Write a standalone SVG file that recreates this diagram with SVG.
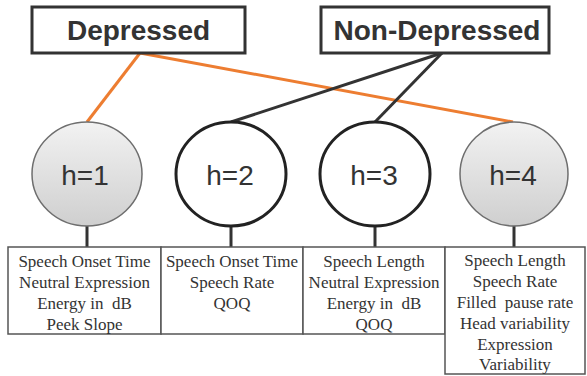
<svg xmlns="http://www.w3.org/2000/svg" width="587" height="376" viewBox="0 0 587 376">
<defs>
<linearGradient id="g" x1="0" y1="0" x2="0" y2="1">
<stop offset="0" stop-color="#f2f2f2"/>
<stop offset="1" stop-color="#cfcfcf"/>
</linearGradient>
<style>
.hdr{fill:#fff;stroke:#333;stroke-width:3}
.ht{font-family:"Liberation Sans",Arial,sans-serif;font-weight:bold;font-size:28px;fill:#333;text-anchor:middle}
.cf{fill:url(#g);stroke:#6e6e6e;stroke-width:1.5}
.co{fill:#fff;stroke:#222;stroke-width:3}
.ct{font-family:"Liberation Sans",Arial,sans-serif;font-size:28px;fill:#333;text-anchor:middle}
.stem{stroke:#333;stroke-width:3}
.tb{fill:#fff;stroke:#555;stroke-width:1.5}
.tt{font-family:"Liberation Serif","Times New Roman",serif;font-size:17px;fill:#333;text-anchor:middle;white-space:pre}
.or{stroke:#ed7d31;stroke-width:3;fill:none}
.bk{stroke:#333;stroke-width:3;fill:none}
</style>
</defs>
<g id="connectors">
<line class="or" x1="140" y1="53" x2="87" y2="122"/>
<line class="or" x1="140" y1="53" x2="513" y2="122"/>
<line class="bk" x1="442" y1="53" x2="231" y2="122"/>
<line class="bk" x1="442" y1="53" x2="375" y2="122"/>
<line class="stem" x1="87" y1="226" x2="87" y2="247"/>
<line class="stem" x1="231" y1="226" x2="231" y2="247"/>
<line class="stem" x1="375" y1="226" x2="375" y2="247"/>
<line class="stem" x1="514" y1="226" x2="514" y2="247"/>
</g>
<g id="depressed">
<rect class="hdr" x="32" y="7" width="213" height="46"/>
<text class="ht" x="138.5" y="40">Depressed</text>
</g>
<g id="non-depressed">
<rect class="hdr" x="321" y="7" width="228" height="46"/>
<text class="ht" x="437" y="40">Non-Depressed</text>
</g>
<g id="h1">
<ellipse class="cf" cx="87" cy="174" rx="55" ry="52"/>
<text class="ct" x="85" y="185">h=1</text>
</g>
<g id="h2">
<ellipse class="co" cx="231" cy="174" rx="55" ry="52"/>
<text class="ct" x="230" y="185">h=2</text>
</g>
<g id="h3">
<ellipse class="co" cx="375" cy="174" rx="55" ry="52"/>
<text class="ct" x="374" y="185">h=3</text>
</g>
<g id="h4">
<ellipse class="cf" cx="514" cy="174" rx="54" ry="52"/>
<text class="ct" x="513" y="185">h=4</text>
</g>
<g id="t1">
<rect class="tb" x="8" y="247" width="153" height="87"/>
<text class="tt" x="84.5" y="267">Speech Onset Time</text>
<text class="tt" x="84.5" y="288">Neutral Expression</text>
<text class="tt" x="84.5" y="309">Energy in  dB</text>
<text class="tt" x="84.5" y="330">Peek Slope</text>
</g>
<g id="t2">
<rect class="tb" x="161" y="247" width="142" height="87"/>
<text class="tt" x="232" y="267">Speech Onset Time</text>
<text class="tt" x="232" y="288">Speech Rate</text>
<text class="tt" x="232" y="309">QOQ</text>
</g>
<g id="t3">
<rect class="tb" x="303" y="247" width="142" height="87"/>
<text class="tt" x="374" y="267">Speech Length</text>
<text class="tt" x="374" y="288">Neutral Expression</text>
<text class="tt" x="374" y="309">Energy in  dB</text>
<text class="tt" x="374" y="330">QOQ</text>
</g>
<g id="t4">
<rect class="tb" x="445" y="247" width="140" height="127"/>
<text class="tt" x="515" y="266">Speech Length</text>
<text class="tt" x="515" y="287">Speech Rate</text>
<text class="tt" x="515" y="308">Filled  pause rate</text>
<text class="tt" x="515" y="329">Head variability</text>
<text class="tt" x="515" y="350">Expression</text>
<text class="tt" x="515" y="370">Variability</text>
</g>
</svg>
